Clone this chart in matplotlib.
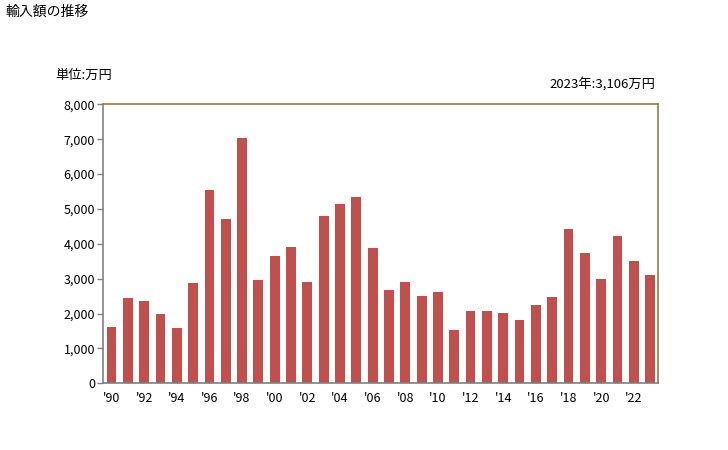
import matplotlib
matplotlib.use('Agg')
import matplotlib.pyplot as plt
import numpy as np

plt.rcParams['font.family'] = ['Noto Sans CJK JP', 'DejaVu Sans']

# import value per year, in 10,000 yen
years = list(range(1990, 2024))
values = [1610, 2450, 2360, 1990, 1590, 2880, 5540, 4710, 7030, 2960,
          3650, 3910, 2900, 4800, 5140, 5340, 3880, 2680, 2900, 2500,
          2620, 1530, 2075, 2075, 2020, 1815, 2245, 2475, 4425, 3735,
          2990, 4225, 3510, 3106]
yticks = np.arange(0, 8001, 1000)

fig = plt.figure(figsize=(7.28, 4.5), dpi=100)
ax = fig.add_axes([0.1419, 0.1482, 0.7624, 0.62])

ax.bar(years, values, width=0.6, color='#C0504D', linewidth=0, zorder=2)

ax.set_xlim(1989.5, 2023.5)
ax.set_ylim(0, 8000)
ax.set_yticks(yticks)
ax.set_yticklabels(['{:,}'.format(v) for v in yticks])
ax.set_xticks(years[::2])
ax.set_xticklabels(["'{:02d}".format(y % 100) for y in years[::2]])

ax.tick_params(axis='y', length=4, width=1, color='#808080',
               labelsize=9, pad=2, direction='out')
ax.tick_params(axis='x', length=0, labelsize=9, pad=6)

for side in ['left', 'bottom']:
    ax.spines[side].set_color('#808080')
    ax.spines[side].set_linewidth(1.2)
for side in ['top', 'right']:
    ax.spines[side].set_color('#8B8045')
    ax.spines[side].set_linewidth(1.2)

fig.text(5 / 728, 1 - 12 / 450, '輸入額の推移', fontsize=10,
         ha='left', va='center')
fig.text(55 / 728, 1 - 75 / 450, '単位:万円', fontsize=9.5,
         ha='left', va='center')
fig.text(655 / 728, 1 - 84 / 450, '2023年:3,106万円', fontsize=9.5,
         ha='right', va='center')

fig.savefig('out.png', dpi=100)
plt.close()
